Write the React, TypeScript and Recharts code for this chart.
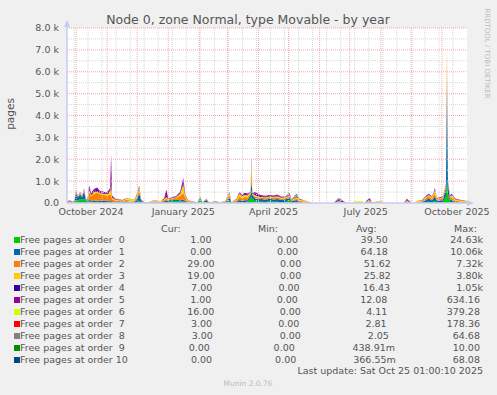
import { AreaChart, Area, XAxis, YAxis, ReferenceLine, CartesianGrid } from "recharts";

// days counted from 1 Oct 2024 (day 0)
const days = [
  -9, -6, -2, 0, 2, 4, 6, 8, 10, 12,
  13, 15, 18, 21, 24, 27, 30, 32, 34, 35,
  36, 39, 42, 46, 50, 54, 58, 61, 63, 65,
  68, 72, 76, 80, 84, 88, 90, 92, 96, 100,
  104, 107, 109, 112, 117, 121, 124, 126, 130, 133,
  139, 144, 149, 153, 155, 160, 163, 166, 168, 171,
  174, 175, 176, 179, 182, 185, 189, 193, 197, 201,
  205, 209, 213, 215, 220, 223, 227, 233, 237, 257,
  260, 262, 265, 269, 275, 278, 286, 288, 290, 293,
  295, 300, 305, 309, 327, 330, 333, 337, 341, 345,
  349, 352, 355, 358, 360, 363, 366, 369, 370, 371,
  373, 375, 378, 383, 388, 390,
];

const order0 = [
  10, 10, 5, 150, 100, 200, 150, 200, 60, 80,
  100, 60, 50, 60, 50, 50, 40, 40, 40, 50,
  30, 20, 40, 20, 30, 20, 10, 50, 100, 40,
  10, 5, 10, 20, 5, 40, 50, 60, 80, 100,
  60, 80, 50, 20, 10, 5, 200, 10, 60, 5,
  20, 5, 20, 100, 10, 30, 60, 40, 50, 60,
  200, 300, 200, 80, 70, 60, 50, 80, 60, 60,
  40, 60, 150, 40, 60, 20, 10, 5, 0, 0,
  10, 20, 10, 5, 0, 0, 0, 0, 10, 20,
  5, 5, 5, 0, 0, 10, 5, 0, 10, 20,
  50, 60, 40, 100, 40, 40, 50, 300, 1100, 400,
  60, 50, 20, 10, 10, 10,
];

const order1 = [
  10, 10, 5, 300, 150, 200, 100, 350, 40, 60,
  80, 40, 40, 60, 50, 40, 60, 40, 40, 50,
  30, 20, 40, 10, 20, 10, 10, 150, 350, 60,
  5, 5, 10, 20, 5, 40, 50, 40, 80, 60,
  60, 80, 40, 20, 10, 5, 60, 10, 80, 5,
  20, 5, 20, 150, 10, 30, 80, 60, 80, 70,
  150, 700, 150, 120, 100, 120, 100, 120, 100, 120,
  100, 110, 100, 40, 80, 30, 10, 5, 0, 0,
  10, 20, 10, 5, 0, 0, 0, 0, 10, 30,
  5, 5, 10, 0, 0, 10, 5, 0, 10, 20,
  100, 150, 80, 200, 60, 80, 100, 400, 4500, 500,
  100, 80, 30, 20, 10, 10,
];

const order2 = [
  30, 40, 20, 50, 20, 40, 30, 50, 20, 100,
  300, 200, 330, 350, 300, 280, 250, 260, 300, 300,
  100, 80, 40, 20, 40, 30, 30, 100, 150, 30,
  10, 10, 30, 30, 20, 60, 100, 50, 50, 80,
  200, 300, 150, 40, 20, 10, 20, 10, 30, 10,
  20, 10, 20, 100, 20, 60, 150, 120, 150, 120,
  80, 500, 50, 100, 80, 60, 70, 60, 70, 80,
  60, 60, 50, 40, 60, 60, 40, 20, 0, 0,
  20, 30, 20, 5, 0, 0, 0, 0, 20, 40,
  10, 20, 20, 0, 0, 40, 20, 0, 40, 40,
  80, 100, 80, 150, 60, 60, 80, 100, 1400, 100,
  100, 120, 60, 40, 30, 30,
];

const order3 = [
  20, 20, 10, 30, 10, 30, 20, 30, 10, 30,
  100, 60, 80, 60, 50, 60, 60, 80, 150, 400,
  80, 40, 30, 20, 30, 50, 20, 80, 100, 10,
  10, 15, 40, 30, 40, 40, 80, 30, 20, 40,
  120, 400, 80, 30, 20, 10, 10, 10, 20, 5,
  20, 20, 30, 80, 10, 50, 150, 100, 100, 100,
  60, 400, 30, 60, 50, 40, 40, 40, 40, 50,
  40, 40, 40, 30, 60, 50, 50, 30, 0, 0,
  20, 20, 20, 5, 0, 0, 0, 0, 30, 40,
  10, 20, 40, 0, 0, 40, 20, 0, 50, 40,
  50, 60, 60, 150, 50, 40, 40, 50, 200, 50,
  50, 100, 60, 60, 50, 40,
];

const order4 = [
  10, 10, 5, 20, 10, 20, 10, 20, 5, 20,
  80, 40, 60, 80, 40, 40, 30, 50, 60, 300,
  40, 20, 10, 10, 10, 10, 10, 30, 50, 10,
  5, 0, 5, 10, 0, 20, 100, 20, 20, 20,
  40, 120, 30, 10, 5, 0, 5, 0, 10, 0,
  5, 0, 5, 30, 0, 10, 30, 30, 40, 40,
  20, 100, 20, 60, 50, 30, 30, 30, 30, 30,
  20, 20, 20, 10, 20, 20, 10, 0, 0, 0,
  30, 40, 40, 5, 0, 0, 0, 0, 20, 40,
  5, 5, 0, 0, 0, 30, 5, 0, 5, 10,
  20, 30, 20, 30, 10, 20, 20, 20, 50, 20,
  20, 30, 20, 10, 5, 0,
];

const order5 = [
  10, 20, 5, 20, 10, 20, 10, 20, 5, 20,
  150, 60, 80, 100, 60, 60, 40, 80, 100, 1100,
  60, 20, 10, 10, 10, 10, 10, 20, 40, 10,
  5, 0, 5, 10, 0, 30, 240, 20, 10, 20,
  60, 160, 30, 10, 5, 0, 5, 0, 10, 0,
  5, 0, 5, 40, 0, 10, 30, 30, 50, 40,
  20, 100, 20, 80, 60, 40, 40, 40, 40, 40,
  30, 20, 20, 10, 40, 10, 10, 0, 0, 0,
  20, 40, 20, 0, 0, 0, 0, 0, 30, 60,
  5, 5, 0, 0, 0, 60, 10, 0, 5, 10,
  20, 30, 20, 40, 10, 20, 20, 20, 30, 20,
  30, 40, 20, 10, 5, 0,
];

// the higher orders are zero on most days: [day, pages]
const order6: [number, number][] = [[42, 10], [46, 30], [50, 40], [54, 50], [58, 60], [61, 40], [63, 30], [197, 10], [220, 30], [278, 80], [286, 80], [330, 20]];
const order7: [number, number][] = [[42, 20], [46, 20], [50, 30], [54, 20], [58, 10], [201, 10]];
const order8: [number, number][] = [[0, 10], [4, 10], [213, 100], [220, 80], [260, 40], [262, 60], [265, 30]];
const order9: [number, number][] = [[175, 10], [370, 10]];
const order10: [number, number][] = [[8, 10], [358, 20], [370, 60]];

const seriesNames = [
  "Free pages at order  0", "Free pages at order  1", "Free pages at order  2", "Free pages at order  3",
  "Free pages at order  4", "Free pages at order  5", "Free pages at order  6", "Free pages at order  7",
  "Free pages at order  8", "Free pages at order  9", "Free pages at order 10",
];
const seriesColors = ["#00CC00", "#0066B3", "#FF8000", "#FFCC00", "#330099", "#990099", "#CCFF00", "#FF0000", "#808080", "#008F00", "#00487D"];
const curText = ["  1.00 ", "  0.00 ", " 29.00 ", " 19.00 ", "  7.00 ", "  1.00 ", " 16.00 ", "  3.00 ", "  3.00 ", "  0.00 ", "  0.00 "];
const minText = ["  0.00 ", "  0.00 ", "  0.00 ", "  0.00 ", "  0.00 ", "  0.00 ", "  0.00 ", "  0.00 ", "  0.00 ", "  0.00 ", "  0.00 "];
const avgText = [" 39.50 ", " 64.18 ", " 51.62 ", " 25.82 ", " 16.43 ", " 12.08 ", "  4.11 ", "  2.81 ", "  2.05 ", "438.91m", "366.55m"];
const maxText = [" 24.63k", " 10.06k", "  7.32k", "  3.80k", "  1.05k", "634.16 ", "379.28 ", "178.36 ", " 64.68 ", " 10.00 ", " 68.08 "];

const xTickDays = [15, 107, 197, 289, 380];
const xTickLabels = ["October 2024", "January 2025", "April 2025", "July 2025", "October 2025"];
const yTicks = [0, 1000, 2000, 3000, 4000, 5000, 6000, 7000, 8000];
const yTickLabels = ["0.0", "1.0 k", "2.0 k", "3.0 k", "4.0 k", "5.0 k", "6.0 k", "7.0 k", "8.0 k"];
const monthStarts = [0, 31, 61, 92, 123, 151, 182, 212, 243, 273, 304, 335, 365];
const fortnights = [-2, 12, 26, 40, 54, 68, 82, 96, 110, 124, 138, 152, 166, 180, 194, 208, 222, 236, 250, 264, 278, 292, 306, 320, 334, 348, 362, 376];
const minorY = [500, 1500, 2500, 3500, 4500, 5500, 6500, 7500];
const majorY = [1000, 2000, 3000, 4000, 5000, 6000, 7000, 8000];

const dense = [order0, order1, order2, order3, order4, order5];
const sparse = [order6, order7, order8, order9, order10];

const data = days.map((day, i) => {
  const row: Record<string, number> = { day };
  dense.forEach((s, k) => (row["o" + k] = s[i]));
  sparse.forEach((s, k) => {
    const hit = s.find((p) => p[0] === day);
    row["o" + (k + 6)] = hit ? hit[1] : 0;
  });
  return row;
});

const FONT = '"DejaVu Sans", sans-serif';
const TEXT = "#555555";
const AXIS = "#C4CCF4";
const MGRID = "#F0AAAA";
const GRID = "#D6D6D6";

function XTick(props: any) {
  const idx = xTickDays.indexOf(props.payload.value);
  return (
    <text x={props.x} y={props.y + 12} textAnchor="middle" fontSize={9.5} fill={TEXT} fontFamily={FONT}>
      {xTickLabels[idx]}
    </text>
  );
}

function YTick(props: any) {
  const idx = yTicks.indexOf(props.payload.value);
  return (
    <text x={props.x - 8} y={props.y + 3.4} textAnchor="end" fontSize={9.5} fill={TEXT} fontFamily={FONT}>
      {yTickLabels[idx]}
    </text>
  );
}

const rowText: React.CSSProperties = { whiteSpace: "pre", fontSize: 9.5, lineHeight: "12px", position: "absolute" };

export default function App() {
  return (
    <div
      style={{
        position: "absolute",
        left: 0,
        top: 0,
        width: 497,
        height: 395,
        background: "#F0F0F0",
        fontFamily: FONT,
        color: TEXT,
        overflow: "hidden",
      }}
    >
      <div style={{ position: "absolute", left: 0, top: 12.2, width: 496, textAlign: "center", fontSize: 12.5, lineHeight: "15px" }}>
        Node 0, zone Normal, type Movable - by year
      </div>

      <div style={{ position: "absolute", left: 0, top: 0 }}>
        <AreaChart width={497} height={220} data={data} margin={{ top: 28, right: 30, bottom: 0, left: 0 }}>
          <CartesianGrid fill="#FFFFFF" horizontal={false} vertical={false} />
          <XAxis
            type="number"
            dataKey="day"
            domain={[-9, 390]}
            ticks={xTickDays}
            tick={XTick}
            tickSize={0}
            tickMargin={0}
            tickLine={false}
            height={17}
            axisLine={{ stroke: AXIS }}
            allowDataOverflow
            interval={0}
          />
          <YAxis
            type="number"
            domain={[0, 8000]}
            ticks={yTicks}
            tick={YTick}
            tickSize={0}
            tickMargin={0}
            tickLine={false}
            width={67}
            axisLine={{ stroke: AXIS }}
            allowDataOverflow
            interval={0}
          />
          {seriesColors.map((c, k) => (
            <Area
              key={k}
              type="linear"
              dataKey={"o" + k}
              stackId="free"
              stroke="none"
              fill={c}
              fillOpacity={1}
              dot={false}
              activeDot={false}
              isAnimationActive={false}
            />
          ))}
          {fortnights.map((d) => (
            <ReferenceLine key={"f" + d} x={d} stroke={GRID} strokeDasharray="1 1" ifOverflow="hidden" />
          ))}
          {minorY.map((v) => (
            <ReferenceLine key={"my" + v} y={v} stroke={GRID} strokeDasharray="1 1" />
          ))}
          {monthStarts.map((d) => (
            <ReferenceLine key={"m" + d} x={d} stroke={MGRID} strokeDasharray="1 1" />
          ))}
          {majorY.map((v) => (
            <ReferenceLine key={"My" + v} y={v} stroke={MGRID} strokeDasharray="1 1" />
          ))}
        </AreaChart>
      </div>

      <svg width={497} height={395} style={{ position: "absolute", left: 0, top: 0, pointerEvents: "none" }}>
        <line x1={67} y1={203} x2={67} y2={24} stroke={AXIS} />
        <polygon points="67,20 64,27 70,27" fill={AXIS} />
        <line x1={67} y1={203} x2={470} y2={203} stroke={AXIS} />
        <polygon points="474,203 467,200 467,206" fill={AXIS} />
        <text transform="translate(14,114) rotate(-90)" textAnchor="middle" fontSize={10.5} fill={TEXT} fontFamily={FONT}>
          pages
        </text>
        <text transform="translate(485,53.5) rotate(90)" textAnchor="middle" fontSize={7} fill="#BBBBBB" fontFamily={FONT}>
          RRDTOOL / TOBI OETIKER
        </text>
      </svg>

      <span style={{ ...rowText, left: 161, top: 222.5 }}>Cur:</span>
      <span style={{ ...rowText, left: 258, top: 222.5 }}>Min:</span>
      <span style={{ ...rowText, left: 356, top: 222.5 }}>Avg:</span>
      <span style={{ ...rowText, left: 454, top: 222.5 }}>Max:</span>

      {seriesNames.map((name, i) => (
        <div
          key={name}
          style={{
            position: "absolute",
            left: 14,
            top: 233.9 + 12 * i,
            width: 469,
            height: 12,
            display: "flex",
            justifyContent: "space-between",
            alignItems: "center",
            whiteSpace: "pre",
            fontSize: 9.5,
            lineHeight: "12px",
          }}
        >
          <span style={{ display: "flex", alignItems: "center" }}>
            <span style={{ display: "inline-block", width: 6, height: 6, background: seriesColors[i] }} />
            {name + " "}
          </span>
          <span>{curText[i]}</span>
          <span>{minText[i]}</span>
          <span>{avgText[i]}</span>
          <span>{maxText[i]}</span>
        </div>
      ))}

      <span style={{ ...rowText, right: 14, top: 365.2 }}>Last update: Sat Oct 25 01:00:10 2025</span>
      <div style={{ position: "absolute", left: 0, width: 496, top: 379, textAlign: "center", fontSize: 7.5, lineHeight: "10px", color: "#BBBBBB" }}>
        Munin 2.0.76
      </div>
    </div>
  );
}
